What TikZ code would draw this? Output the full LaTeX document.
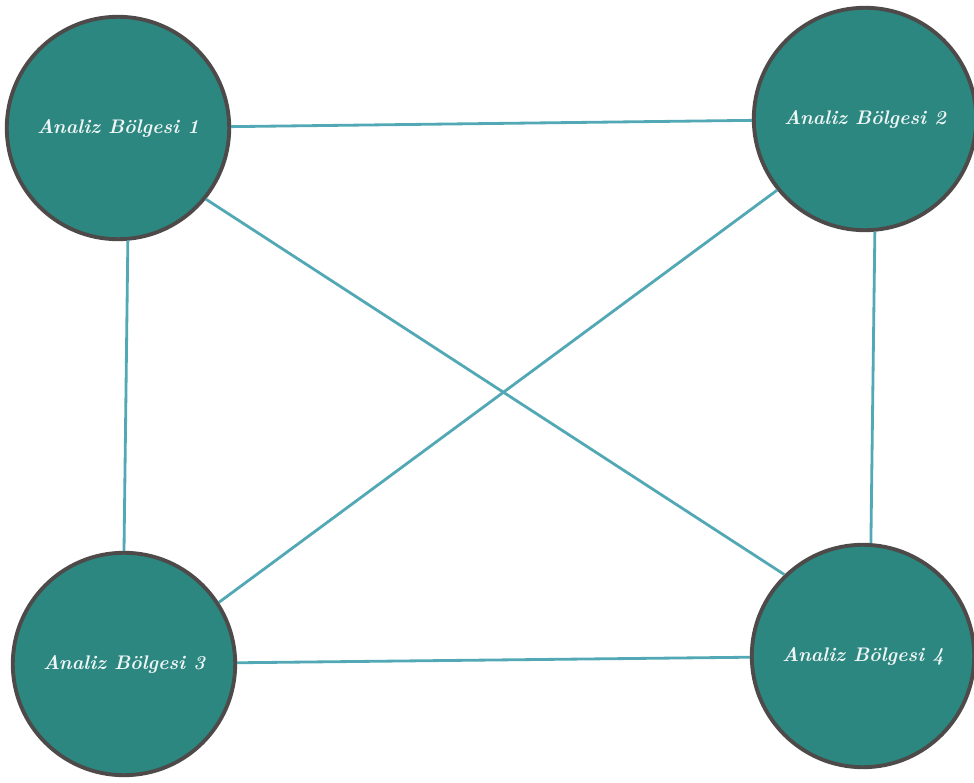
\documentclass[tikz,border=0pt]{standalone}
\usepackage{tikz}
\usepackage{xcolor}
\usetikzlibrary{positioning, calc}
\definecolor{zonefill}{HTML}{2B8780}
\definecolor{zoneedge}{HTML}{4E4A4A}
\definecolor{zoneline}{HTML}{52A8B4}

\begin{document}
\begin{tikzpicture}[
  x=0.02cm, y=-0.02cm,
  zonenode/.style={circle, draw=zoneedge, fill=zonefill, line width=2.2pt, minimum size=4.45cm, inner sep=0pt, font=\fontsize{11.2}{13}\selectfont\bfseries\itshape, text=white!92!zonefill, align=center},
  zonelink/.style={draw=zoneline, line width=1.6pt},
]
\useasboundingbox (0,0) rectangle (974,783);
\node[zonenode] (z1) at (118,128) {Analiz Bölgesi 1};
\node[zonenode] (z2) at (865,119) {Analiz Bölgesi 2};
\node[zonenode] (z3) at (124,664) {Analiz Bölgesi 3};
\node[zonenode] (z4) at (863,656) {Analiz Bölgesi 4};
\path[zonelink] (z1)--(z2); \path[zonelink] (z3)--(z4);
\path[zonelink] (z1.-85)--(z3.90); \path[zonelink] (z2.-85)--(z4.86);
\path[zonelink] (z1.-39)--(z4.134); \path[zonelink] (z2.-141)--(z3.33);
\end{tikzpicture}
\end{document}
